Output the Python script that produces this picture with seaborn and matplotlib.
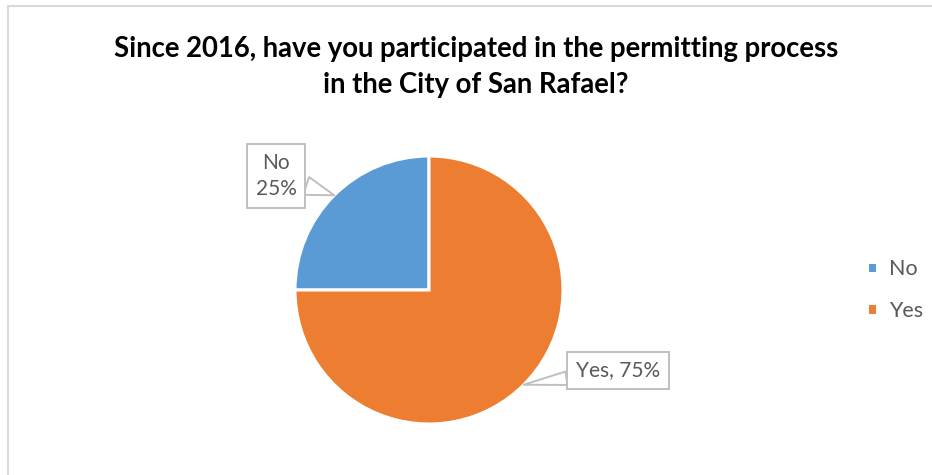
import numpy as np
import matplotlib
matplotlib.use("Agg")
import matplotlib.pyplot as plt
from matplotlib.patches import Rectangle
import seaborn as sns

# Survey answers and their shares (percent)
categories = ["No", "Yes"]
shares = [25, 75]
slice_labels = ["No\n25%", "Yes, 75%"]
title = "Since 2016, have you participated in the permitting process\nin the City of San Rafael?"

sns.set_theme(style="white")
plt.rcParams["font.family"] = ["Lato", "DejaVu Sans"]
colors = ["#5B9BD5", "#ED7D31"]
text_gray = "#595959"

W, H = 932, 475
fig = plt.figure(figsize=(W / 100, H / 100), dpi=100)

# square axes holding the pie
cx, cy, r = 429, 290, 134
ax = fig.add_axes([(cx - r) / W, (H - cy - r) / H, 2 * r / W, 2 * r / H])
wedges, _ = ax.pie(shares, colors=colors, startangle=90, counterclock=True,
                   radius=1.0, wedgeprops=dict(edgecolor="white", linewidth=2.2))
ax.set_xlim(-1, 1)
ax.set_ylim(-1, 1)
ax.set_aspect("equal")
ax.axis("off")

# callout labels pointing at the middle of each slice's rim
offsets = [(-1.14, 0.85), (1.41, -0.60)]
tails = [0.9, 0.65]
for w, lab, off, tw in zip(wedges, slice_labels, offsets, tails):
    ang = np.deg2rad((w.theta1 + w.theta2) / 2)
    tip = (np.cos(ang) * w.r, np.sin(ang) * w.r)
    ax.annotate(lab, xy=tip, xytext=off, ha="center", va="center",
                fontsize=15, color=text_gray, linespacing=1.4,
                annotation_clip=False,
                bbox=dict(boxstyle="square,pad=0.42", fc="white", ec="#BFBFBF", lw=1.4),
                arrowprops=dict(arrowstyle=f"wedge,tail_width={tw},shrink_factor=0.5",
                                fc="white", ec="#BFBFBF", lw=1.4,
                                shrinkA=0, shrinkB=0))

fig.text(476 / W, 1 - 67 / H, title, ha="center", va="center",
         fontsize=19.8, fontweight="bold", color="black", linespacing=1.45)

fig.legend(wedges, categories, loc="center left",
           bbox_to_anchor=(848 / W, 1 - 290 / H), frameon=False,
           fontsize=15.5, labelcolor=text_gray, handlelength=0.45, handleheight=0.45,
           handletextpad=0.55, labelspacing=1.0)

# light frame around the chart area
fig.patches.append(Rectangle((7.5 / W, -0.1), 1.2, 1 - 5.5 / H + 0.1,
                             transform=fig.transFigure, fill=False,
                             ec="#D9D9D9", lw=1.5))

fig.savefig("out.png", dpi=100, facecolor="white")
